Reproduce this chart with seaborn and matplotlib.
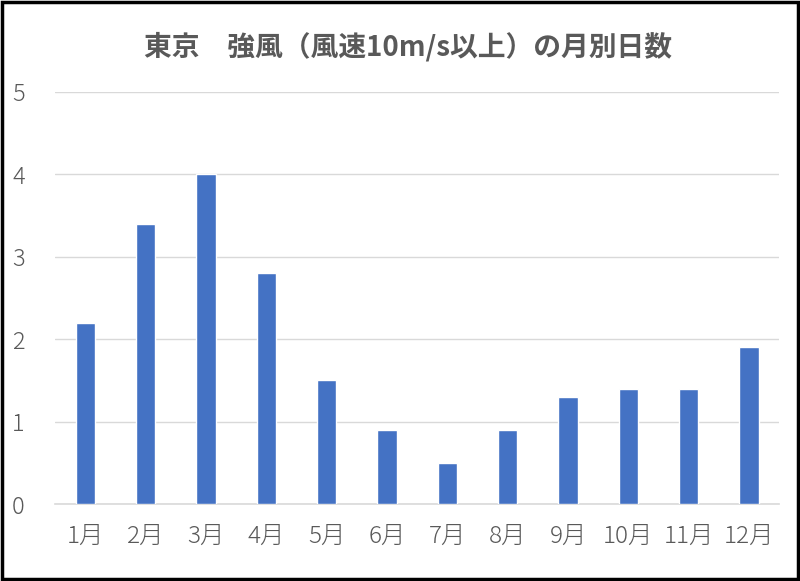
import matplotlib
matplotlib.use("Agg")
import matplotlib.pyplot as plt
import seaborn as sns
import pandas as pd
from matplotlib.patches import Rectangle

months = ["1月", "2月", "3月", "4月", "5月", "6月", "7月", "8月", "9月", "10月", "11月", "12月"]
days = [2.2, 3.4, 4.0, 2.8, 1.5, 0.9, 0.5, 0.9, 1.3, 1.4, 1.4, 1.9]
title = "東京　強風（風速10m/s以上）の月別日数"

sns.set_theme(style="white")
plt.rcParams['font.family'] = ['Noto Sans CJK JP', 'DejaVu Sans']

df = pd.DataFrame({"month": months, "days": days})

fig = plt.figure(figsize=(8, 5.81), dpi=100)
ax = fig.add_axes([0.069, 0.1325, 0.905, 0.7092])
sns.barplot(data=df, x="month", y="days", color="#4472C4", width=0.32,
            saturation=1, ax=ax, zorder=3)

ax.set_ylim(0, 5)
ax.set_xlim(-0.5, len(months) - 0.5)
ax.set_yticks(range(0, 6))
ax.yaxis.grid(True, color="#D9D9D9", linewidth=1, zorder=0)
ax.set_xlabel("")
ax.set_ylabel("")
for s in ["top", "right", "left"]:
    ax.spines[s].set_visible(False)
ax.spines["bottom"].set_color("#D9D9D9")
ax.spines["bottom"].set_linewidth(1.2)
ax.tick_params(axis="y", length=0, pad=22, labelsize=17, labelcolor="#595959")
ax.tick_params(axis="x", length=0, pad=14, labelsize=17.5, labelcolor="#595959")
for lbl in ax.get_xticklabels() + ax.get_yticklabels():
    lbl.set_fontweight("light")

fig.text(0.51, 1 - 47 / 581, title, ha="center", va="center", fontsize=20,
         fontweight="bold", color="#595959")

fig.patches.append(Rectangle((0.002, 0.003), 0.996, 0.994, transform=fig.transFigure,
                             fill=False, edgecolor="black", linewidth=2.5))

fig.savefig("out.png", dpi=100)
